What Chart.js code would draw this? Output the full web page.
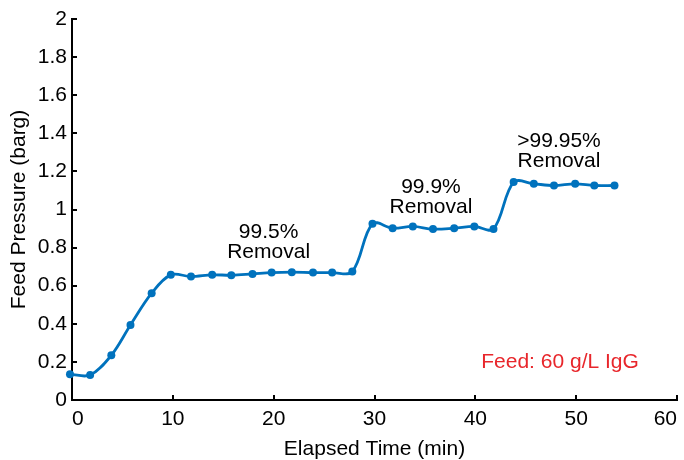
<!DOCTYPE html>
<html>
<head>
<meta charset="utf-8">
<script src="https://cdn.jsdelivr.net/npm/chart.js@4/dist/chart.umd.min.js"></script>
<style>
  html, body { margin: 0; padding: 0; background: #fff; }
  #wrap { width: 684px; height: 460px; position: relative; }
</style>
</head>
<body>
<div id="wrap"><canvas id="c" width="684" height="460"></canvas></div>
<script>
// ---- data ----
const elapsedTime = [-0.2, 1.8, 3.9, 5.8, 7.9, 9.8, 11.8, 13.9, 15.8, 17.9, 19.8, 21.8, 23.9, 25.8,
                     27.8, 29.8, 31.8, 33.8, 35.8, 37.9, 39.9, 41.8, 43.8, 45.8, 47.8, 49.9, 51.8, 53.8];
const feedPressure = [0.135, 0.131, 0.235, 0.394, 0.561, 0.657, 0.648, 0.657, 0.655, 0.662, 0.669, 0.671, 0.669, 0.669,
                      0.674, 0.925, 0.902, 0.911, 0.897, 0.902, 0.911, 0.898, 1.144, 1.135, 1.126, 1.135, 1.126, 1.126];
const xTickValues = [0, 10, 20, 30, 40, 50, 60];
const yTickValues = [0, 0.2, 0.4, 0.6, 0.8, 1, 1.2, 1.4, 1.6, 1.8, 2];
const yTickLabels = ['0', '0.2', '0.4', '0.6', '0.8', '1', '1.2', '1.4', '1.6', '1.8', '2'];
const annotationTexts = [['99.5%', 'Removal'], ['99.9%', 'Removal'], ['>99.95%', 'Removal']];
const annotationX = [19.5, 35.6, 48.3];
const annotationY = [0.826, 1.066, 1.308];
const feedNote = 'Feed: 60 g/L IgG';
const feedNoteX = 48.4;
const feedNoteY = 0.196;

const FONT = '"Liberation Sans", Arial, Helvetica, sans-serif';
const BLUE = '#0072BD';

const points = elapsedTime.map((t, i) => ({ x: t, y: feedPressure[i] }));

const decorPlugin = {
  id: 'decor',
  afterDraw(chart) {
    const ctx = chart.ctx;
    const xs = chart.scales.x, ys = chart.scales.y;
    const ca = chart.chartArea;
    ctx.save();
    // inward ticks
    ctx.strokeStyle = '#000';
    ctx.lineWidth = 2;
    xTickValues.forEach(v => {
      const px = Math.round(xs.getPixelForValue(v));
      ctx.beginPath(); ctx.moveTo(px, ca.bottom); ctx.lineTo(px, ca.bottom - 5); ctx.stroke();
    });
    yTickValues.forEach(v => {
      const py = Math.round(ys.getPixelForValue(v));
      ctx.beginPath(); ctx.moveTo(ca.left, py); ctx.lineTo(ca.left + 5, py); ctx.stroke();
    });
    // annotations
    ctx.font = '21px ' + FONT;
    ctx.textAlign = 'center';
    ctx.textBaseline = 'middle';
    ctx.fillStyle = '#000';
    annotationTexts.forEach((lines, i) => {
      const cx = xs.getPixelForValue(annotationX[i]);
      const cy = ys.getPixelForValue(annotationY[i]);
      const lh = 20;
      const startY = cy - (lines.length - 1) * lh / 2;
      lines.forEach((ln, j) => ctx.fillText(ln, cx, startY + j * lh));
    });
    ctx.fillStyle = '#E8262B';
    ctx.fillText(feedNote, xs.getPixelForValue(feedNoteX), ys.getPixelForValue(feedNoteY));
    ctx.restore();
  }
};

new Chart(document.getElementById('c'), {
  type: 'line',
  data: {
    datasets: [{
      data: points,
      borderColor: BLUE,
      backgroundColor: BLUE,
      borderWidth: 2.8,
      pointRadius: 4,
      pointBackgroundColor: BLUE,
      pointBorderWidth: 0,
      tension: 0.35,
      clip: false,
      fill: false
    }]
  },
  options: {
    responsive: false,
    animation: false,
    devicePixelRatio: 1,
    layout: { padding: { top: 19, right: 7, left: 0, bottom: 0 } },
    plugins: { legend: { display: false }, tooltip: { enabled: false } },
    scales: {
      x: {
        type: 'linear',
        min: 0, max: 60,
        afterBuildTicks(scale) { scale.ticks = xTickValues.map(v => ({ value: v })); },
        afterFit(scale) { scale.height = 60; scale.paddingLeft = 0; scale.paddingRight = 0; },
        ticks: { color: '#000', font: { family: FONT, size: 21 }, padding: 7, maxRotation: 0,
                 align: 'inner', callback: (v) => String(v) },
        grid: { display: true, drawOnChartArea: false, drawTicks: false },
        border: { display: true, color: '#000', width: 2 },
        title: { display: true, text: 'Elapsed Time (min)', color: '#000',
                 font: { family: FONT, size: 21, lineHeight: 1 }, padding: { top: 0, bottom: 0 } }
      },
      y: {
        type: 'linear',
        min: 0, max: 2,
        afterBuildTicks(scale) { scale.ticks = yTickValues.map(v => ({ value: v })); },
        afterFit(scale) { scale.width = 72; scale.paddingTop = 0; scale.paddingBottom = 0; },
        ticks: { color: '#000', font: { family: FONT, size: 21 }, padding: 5,
                 callback: (v) => yTickLabels[yTickValues.findIndex(t => Math.abs(t - v) < 1e-6)] },
        grid: { display: true, drawOnChartArea: false, drawTicks: false },
        border: { display: true, color: '#000', width: 2 },
        title: { display: true, text: 'Feed Pressure (barg)', color: '#000',
                 font: { family: FONT, size: 21, lineHeight: 1 }, padding: { top: 9, bottom: 0 } }
      }
    }
  },
  plugins: [decorPlugin]
});
</script>
</body>
</html>
